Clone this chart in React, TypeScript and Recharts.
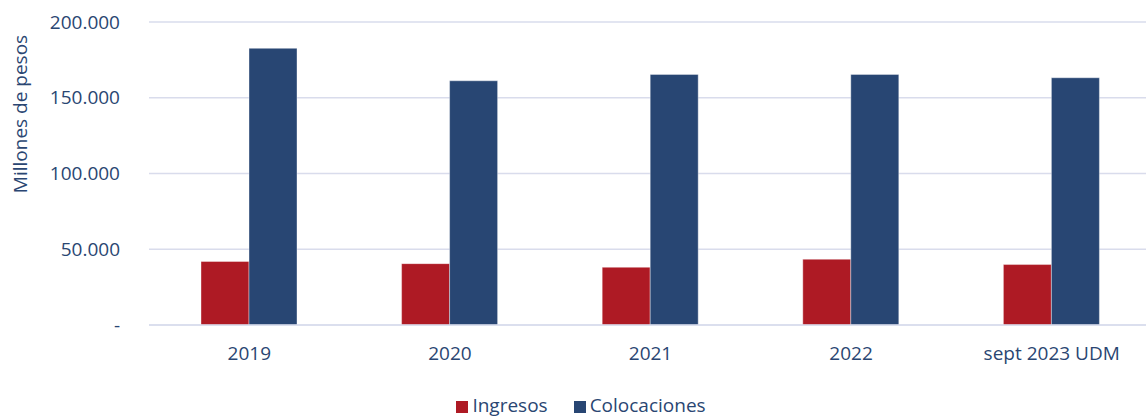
import { BarChart, Bar, XAxis, YAxis, CartesianGrid, Legend } from "recharts";

const categories = ["2019", "2020", "2021", "2022", "sept 2023 UDM"];
const ingresos = [41900, 40500, 38100, 43400, 39900];
const colocaciones = [182600, 161200, 165400, 165400, 163200];
const yTicks = [0, 50000, 100000, 150000, 200000];
const seriesNames = ["Ingresos", "Colocaciones"];

const data = categories.map((name, i) => ({
  name,
  ingresos: ingresos[i],
  colocaciones: colocaciones[i],
}));

const TEXT = "#2a4672";
const GRID = "#d9dcec";
const FONT = "'Open Sans', 'Noto Sans', sans-serif";

const fmt = (v: number) => (v === 0 ? "-" : v.toLocaleString("de-DE"));

export default function App() {
  return (
    <div
      style={{
        position: "absolute",
        left: 0,
        top: 0,
        width: 1146,
        height: 418,
        overflow: "hidden",
        background: "#fff",
        fontFamily: FONT,
      }}
    >
      <BarChart
        width={1152}
        height={418}
        data={data}
        margin={{ top: 22, right: 0, bottom: 0, left: 0 }}
        barGap={0}
        barSize={48}
      >
        <CartesianGrid vertical={false} stroke={GRID} strokeWidth={1.5} />
        <XAxis
          dataKey="name"
          axisLine={{ stroke: GRID, strokeWidth: 1.5 }}
          tickLine={false}
          tickSize={0}
          tickMargin={22}
          height={67}
          tick={{ fontSize: 19, fill: TEXT, fontFamily: FONT }}
        />
        <YAxis
          width={149}
          domain={[0, 200000]}
          ticks={yTicks}
          tickFormatter={fmt}
          axisLine={false}
          tickLine={false}
          tickSize={0}
          tickMargin={29}
          tick={{ fontSize: 19, fill: TEXT, fontFamily: FONT }}
          label={{
            content: () => (
              <text
                x={20}
                y={114}
                transform="rotate(-90 20 114)"
                textAnchor="middle"
                dominantBaseline="central"
                fill={TEXT}
                fontSize={19}
                fontFamily={FONT}
              >
                Millones de pesos
              </text>
            ),
          }}
        />
        <Legend
          verticalAlign="bottom"
          iconType="square"
          iconSize={12}
          itemSorter={(item: any) => seriesNames.indexOf(String(item.value))}
          wrapperStyle={{ left: 10, bottom: 0, fontSize: 19, fontFamily: FONT }}
          formatter={(value, _entry, index) => (
            <span style={{ color: TEXT, paddingRight: index === 0 ? 16 : 0 }}>{value}</span>
          )}
        />
        <Bar
          dataKey="ingresos"
          name="Ingresos"
          fill="#ae1a24"
          stroke="#ffffff"
          strokeOpacity={0.5}
          strokeWidth={0.75}
          isAnimationActive={false}
        />
        <Bar
          dataKey="colocaciones"
          name="Colocaciones"
          fill="#284673"
          stroke="#ffffff"
          strokeOpacity={0.5}
          strokeWidth={0.75}
          isAnimationActive={false}
        />
      </BarChart>
    </div>
  );
}
